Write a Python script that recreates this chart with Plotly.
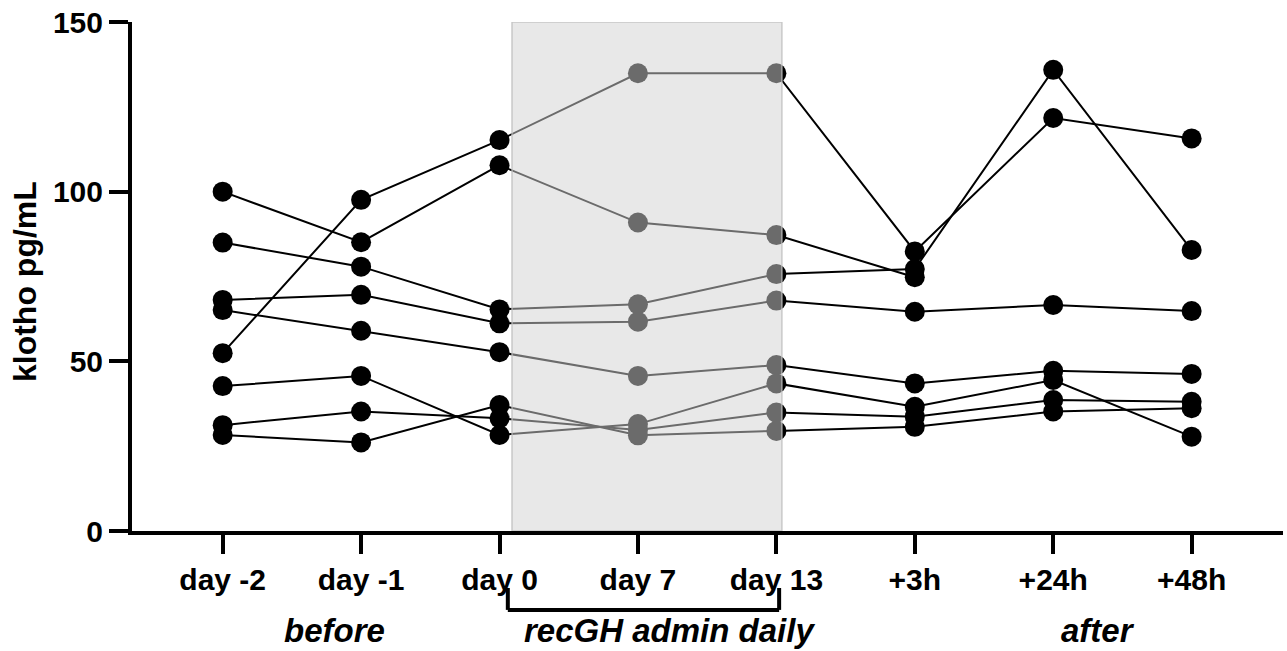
import plotly.graph_objects as go

timepoints = ["day -2", "day -1", "day 0", "day 7", "day 13", "+3h", "+24h", "+48h"]
y_ticks = [0, 50, 100, 150]

s1 = [100.0, 85.1, 107.8, 90.9, 87.2, 74.8, None, None]
s2 = [85.0, 77.9, 65.3, 66.8, 75.7, 77.2, 135.9, 82.8]
s3 = [52.4, 97.6, 115.2, 134.9, 134.9, 82.4, 121.7, 115.7]
s4 = [68.1, 69.6, 61.2, 61.7, 67.9, 64.6, 66.6, 64.8]
s5 = [65.1, 59.0, 52.7, 45.7, 48.9, 43.5, 47.2, 46.3]
s6 = [42.7, 45.7, 28.3, 31.5, 43.5, 36.6, 44.5, 27.8]
s7 = [31.2, 35.2, 33.2, 29.8, 34.9, 33.7, 38.6, 38.1]
s8 = [28.3, 26.1, 37.1, 28.2, 29.5, 30.7, 35.2, 36.2]
subjects = [s1, s2, s3, s4, s5, s6, s7, s8]

group_labels = ["before", "recGH admin daily", "after"]

FONT = "Liberation Sans, Arial, sans-serif"

fig = go.Figure()
for s in subjects:
    fig.add_trace(go.Scatter(
        x=timepoints, y=s, mode="lines+markers",
        line=dict(color="black", width=2),
        marker=dict(color="black", size=20, line=dict(width=0)),
        connectgaps=False, showlegend=False, hoverinfo="skip"))

# shaded treatment window (drawn above traces, semi-transparent)
fig.add_shape(type="rect", xref="x", yref="y", x0=2.09, x1=4.04, y0=0, y1=150,
              fillcolor="rgba(210,210,210,0.51)", line=dict(color="rgba(190,190,190,0.8)", width=1.5),
              layer="above")

# bracket under axis
bk = dict(color="black", width=4)
fig.add_shape(type="line", xref="x", yref="paper", x0=2.06, x1=4.02, y0=-0.155, y1=-0.155, line=bk)
fig.add_shape(type="line", xref="x", yref="paper", x0=2.06, x1=2.06, y0=-0.112, y1=-0.155, line=bk)
fig.add_shape(type="line", xref="x", yref="paper", x0=4.02, x1=4.02, y0=-0.112, y1=-0.155, line=bk)

gfont = dict(family=FONT, size=33, color="black", weight="bold", style="italic")
for lab, xpos in zip(group_labels, [0.81, 3.23, 6.32]):
    fig.add_annotation(x=xpos, y=-0.196, xref="x", yref="paper", text=lab, showarrow=False,
                       font=gfont, xanchor="center", yanchor="middle")

fig.add_annotation(x=-0.093, y=0.491, xref="paper", yref="paper", text="klotho pg/mL",
                   textangle=-90, showarrow=False, xanchor="center", yanchor="middle",
                   font=dict(family=FONT, size=32, color="black", weight="bold"))

tickfont = dict(family=FONT, size=30, color="black", weight="bold")
fig.update_layout(
    width=1287, height=651,
    margin=dict(l=132, r=4, t=22, b=120, autoexpand=False),
    paper_bgcolor="white", plot_bgcolor="white",
    xaxis=dict(type="category", categoryorder="array", categoryarray=timepoints,
               range=[-0.655, 7.66], showgrid=False, zeroline=False, automargin=False,
               showline=True, linecolor="black", linewidth=4,
               ticks="outside", ticklen=19, tickwidth=4, tickcolor="black",
               tickfont=tickfont),
    yaxis=dict(range=[0, 150], tickvals=y_ticks, showgrid=False, zeroline=False, automargin=False,
               showline=True, linecolor="black", linewidth=4,
               ticks="outside", ticklen=19, tickwidth=4, tickcolor="black",
               ticklabeloverflow="allow", tickfont=tickfont),
)

fig.write_html("out.html", config={"displayModeBar": False},
               post_script="document.body.style.margin='0';document.body.style.overflow='hidden';")
